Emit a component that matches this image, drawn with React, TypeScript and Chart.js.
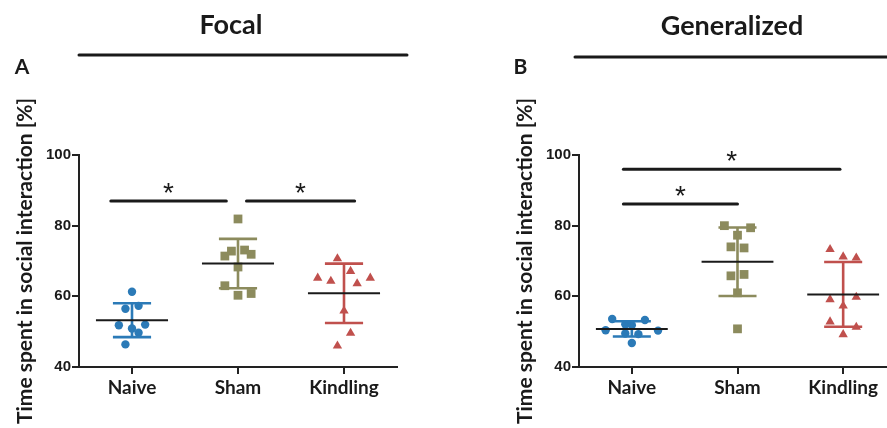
import React, { useEffect, useRef } from "react";
import { Chart, registerables } from "chart.js";

Chart.register(...registerables);

// ---------- data ----------
const categories = ["Naive", "Sham", "Kindling"];
const yTickValues = [40, 60, 80, 100];
const yAxisTitle = "Time spent in social interaction [%]";

// Panel A – Focal
const focalNaive = [61.3, 56.5, 57.3, 51.8, 50.9, 52.0, 49.7, 46.4];
const focalNaiveLane = [0, -1, 1, -2, 0, 2, 1, -1];
const focalSham = [81.9, 71.4, 72.8, 73.1, 71.9, 68.3, 63.0, 60.3, 60.8];
const focalShamLane = [0, -2, -1, 1, 2, 0, -2, 0, 2];
const focalKindling = [70.7, 67.1, 65.2, 64.3, 63.6, 65.2, 55.9, 49.6, 46.0];
const focalKindlingLane = [-1, 1, -4, -2, 2, 4, 0, 1, -1];
const focalSigFrom = [-0.2, 1.08];
const focalSigTo = [0.89, 2.1];
const focalSigLevel = [87, 87];

// Panel B – Generalized
const genNaive = [53.6, 53.3, 52.1, 51.8, 50.4, 50.3, 49.3, 49.5, 46.8];
const genNaiveLane = [-3, 2, -1, 0, -4, 4, 1, -1, 0];
const genSham = [80.0, 79.4, 77.3, 74.0, 73.7, 65.8, 66.2, 61.0, 50.8];
const genShamLane = [-2, 2, 0, -1, 1, -1, 1, 0, 0];
const genKindling = [73.3, 71.2, 70.9, 59.1, 59.8, 57.3, 52.8, 51.3, 49.2];
const genKindlingLane = [-2, 0, 2, -2, 2, 0, -2, 2, 0];
const genSigFrom = [-0.08, -0.08];
const genSigTo = [1.97, 1.0];
const genSigLevel = [96, 86.1];

// ---------- styles ----------
const COLORS = ["#2b7ab7", "#8c8b5d", "#c0504d"];
const STYLES = ["circle", "rect", "triangle"];
const RADII = [4.2, 6.2, 5.4];
const JITTER = 0.062;
const CAP_HALF = 0.18;
const MEAN_HALF = 0.34;
const INK = "#1a1a1a";

function meanSd(v: number[]) {
  const m = v.reduce((a, b) => a + b, 0) / v.length;
  const s = Math.sqrt(v.reduce((a, b) => a + (b - m) * (b - m), 0) / (v.length - 1));
  return { m, s };
}

const errorBarPlugin = {
  id: "errorBars",
  afterDatasetsDraw(chart: any) {
    const { ctx } = chart;
    const x = chart.scales.x;
    const y = chart.scales.y;
    chart.data.datasets.forEach((ds: any) => {
      if (ds.center === undefined) return;
      const { m, s } = meanSd(ds.data.map((p: any) => p.y));
      const cx = x.getPixelForValue(ds.center);
      const top = y.getPixelForValue(m + s);
      const bot = y.getPixelForValue(m - s);
      const cl = x.getPixelForValue(ds.center - CAP_HALF);
      const cr = x.getPixelForValue(ds.center + CAP_HALF);
      ctx.save();
      ctx.strokeStyle = ds.backgroundColor;
      ctx.lineWidth = 2.6;
      ctx.beginPath();
      ctx.moveTo(cx, top);
      ctx.lineTo(cx, bot);
      ctx.moveTo(cl, top);
      ctx.lineTo(cr, top);
      ctx.moveTo(cl, bot);
      ctx.lineTo(cr, bot);
      ctx.stroke();
      ctx.strokeStyle = INK;
      ctx.lineWidth = 2;
      const my = y.getPixelForValue(m);
      ctx.beginPath();
      ctx.moveTo(x.getPixelForValue(ds.center - MEAN_HALF), my);
      ctx.lineTo(x.getPixelForValue(ds.center + MEAN_HALF), my);
      ctx.stroke();
      ctx.restore();
    });
  },
};

const decorPlugin = {
  id: "decor",
  afterDraw(chart: any, _args: any, opts: any) {
    const { ctx } = chart;
    const x = chart.scales.x;
    const y = chart.scales.y;
    ctx.save();
    ctx.fillStyle = INK;
    ctx.textAlign = "center";
    ctx.textBaseline = "alphabetic";
    ctx.font = "bold 27px Lato";
    ctx.fillText(opts.title, opts.titleX, opts.titleY);
    ctx.font = "bold 21px Lato";
    ctx.fillText(opts.letter, opts.letterX, opts.letterY);
    ctx.strokeStyle = INK;
    ctx.lineWidth = 3;
    ctx.lineCap = "round";
    ctx.beginPath();
    ctx.moveTo(opts.lineX1, opts.lineY);
    ctx.lineTo(opts.lineX2, opts.lineY);
    ctx.stroke();
    // significance asterisks
    ctx.font = "28px 'Liberation Sans'";
    chart.data.datasets.forEach((ds: any) => {
      if (!ds.sig) return;
      const px = x.getPixelForValue((ds.data[0].x + ds.data[1].x) / 2);
      const py = y.getPixelForValue(ds.data[0].y) - 15;
      ctx.fillText("*", px, py + 16);
    });
    ctx.restore();
  },
};

function buildConfig(p: any) {
  const groupDatasets = p.groups.map((g: any, i: number) => ({
    type: "scatter",
    center: i,
    data: g.values.map((v: number, k: number) => ({ x: i + g.lanes[k] * JITTER, y: v })),
    backgroundColor: COLORS[i],
    borderColor: COLORS[i],
    borderWidth: 0,
    pointStyle: STYLES[i],
    pointRadius: RADII[i],
    showLine: false,
    order: 2,
  }));
  const sigDatasets = p.sigFrom.map((f: number, k: number) => ({
    type: "scatter",
    sig: true,
    data: [
      { x: f, y: p.sigLevel[k] },
      { x: p.sigTo[k], y: p.sigLevel[k] },
    ],
    showLine: true,
    borderColor: INK,
    borderWidth: 3,
    borderCapStyle: "round",
    pointRadius: 0,
    order: 1,
  }));
  return {
    type: "scatter",
    data: { datasets: [...groupDatasets, ...sigDatasets] },
    options: {
      animation: false,
      responsive: false,
      maintainAspectRatio: false,
      devicePixelRatio: 1,
      events: [],
      layout: { padding: { left: p.padLeft, right: p.padRight, top: 155, bottom: 0 } },
      plugins: {
        legend: { display: false },
        tooltip: { enabled: false },
        decor: p.decor,
      },
      scales: {
        x: {
          type: "linear",
          min: -0.5,
          max: 2.5,
          afterBuildTicks: (s: any) => {
            s.ticks = categories.map((_, i) => ({ value: i }));
          },
          afterFit: (s: any) => {
            s.height = 61;
          },
          ticks: {
            callback: (v: number) => categories[v],
            font: { family: "Lato", weight: "bold", size: 19 },
            color: INK,
            padding: 2,
            maxRotation: 0,
            autoSkip: false,
          },
          grid: { drawOnChartArea: false, drawTicks: true, tickLength: 7, color: "#222", lineWidth: 2 },
          border: { display: true, color: "#222", width: 2 },
        },
        y: {
          type: "linear",
          min: 40,
          max: 100,
          afterBuildTicks: (s: any) => {
            s.ticks = yTickValues.map((v) => ({ value: v }));
          },
          afterFit: (s: any) => {
            s.width = 79;
          },
          ticks: {
            font: { family: "'Liberation Sans'", weight: "bold", size: 15 },
            color: INK,
            padding: 1,
          },
          grid: { drawOnChartArea: false, drawTicks: true, tickLength: 7, color: "#222", lineWidth: 2 },
          border: { display: true, color: "#222", width: 2 },
          title: {
            display: true,
            text: yAxisTitle,
            font: { family: "Lato", weight: "bold", size: 21 },
            color: INK,
            padding: { top: 13, bottom: 0 },
          },
        },
      },
    },
    plugins: [errorBarPlugin, decorPlugin],
  };
}

const panelA = {
  groups: [
    { values: focalNaive, lanes: focalNaiveLane },
    { values: focalSham, lanes: focalShamLane },
    { values: focalKindling, lanes: focalKindlingLane },
  ],
  sigFrom: focalSigFrom,
  sigTo: focalSigTo,
  sigLevel: focalSigLevel,
  padLeft: 0,
  padRight: 43,
  decor: { title: "Focal", titleX: 231, titleY: 34, letter: "A", letterX: 22, letterY: 74, lineX1: 79, lineX2: 407, lineY: 55 },
};

const panelB = {
  groups: [
    { values: genNaive, lanes: genNaiveLane },
    { values: genSham, lanes: genShamLane },
    { values: genKindling, lanes: genKindlingLane },
  ],
  sigFrom: genSigFrom,
  sigTo: genSigTo,
  sigLevel: genSigLevel,
  padLeft: 60,
  padRight: 14,
  decor: { title: "Generalized", titleX: 292, titleY: 34.5, letter: "B", letterX: 80.5, letterY: 74, lineX1: 135, lineX2: 480, lineY: 57 },
};

function Panel({ panel, left, width }: { panel: any; left: number; width: number }) {
  const ref = useRef<HTMLCanvasElement>(null);
  useEffect(() => {
    const chart = new Chart(ref.current as HTMLCanvasElement, buildConfig(panel) as any);
    return () => chart.destroy();
  }, [panel]);
  return (
    <div style={{ position: "absolute", left, top: 0, width, height: 428 }}>
      <canvas ref={ref} width={width} height={428} style={{ width, height: 428, display: "block" }} />
    </div>
  );
}

export default function App() {
  return (
    <div
      style={{
        position: "absolute",
        left: 0,
        top: 0,
        width: 887,
        height: 428,
        overflow: "hidden",
        background: "#fff",
      }}
    >
      <Panel panel={panelA} left={0} width={440} />
      <Panel panel={panelB} left={440} width={470} />
    </div>
  );
}
